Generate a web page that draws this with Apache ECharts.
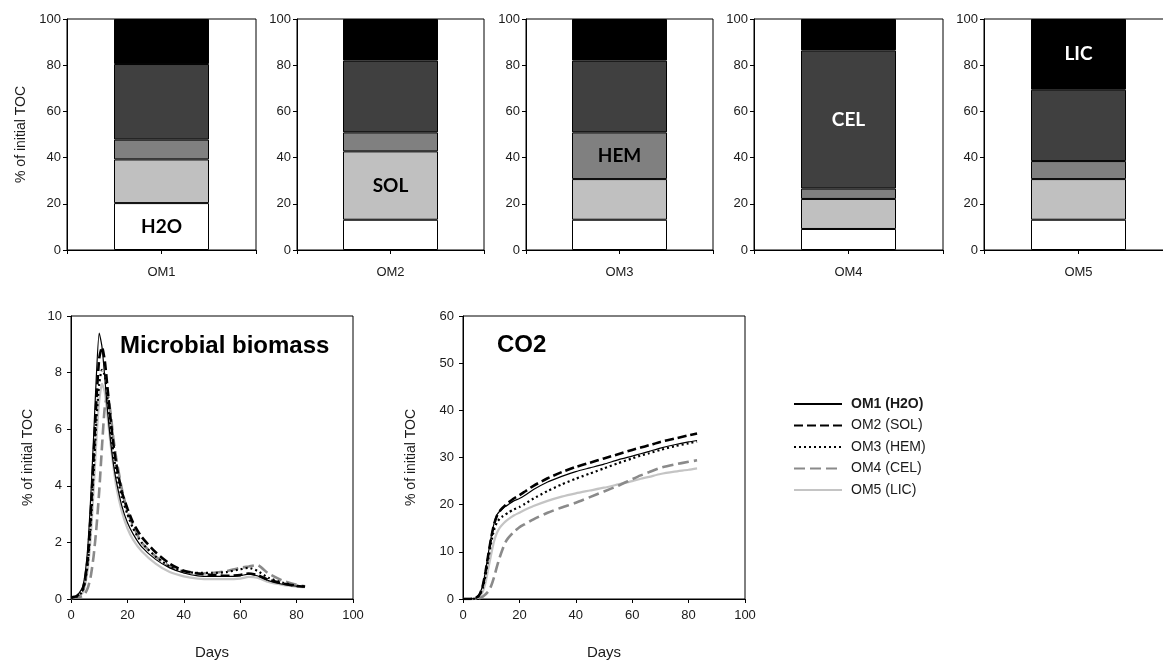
<!DOCTYPE html>
<html>
<head>
<meta charset="utf-8">
<script src="https://cdn.jsdelivr.net/npm/echarts@6/dist/echarts.min.js"></script>
<style>
html,body{margin:0;padding:0;background:#fff;overflow:hidden;}
#chart{width:1185px;height:661px;}
</style>
</head>
<body>
<div id="chart"></div>
<script>
// ---------- DATA ----------
const barCategories = ['OM1', 'OM2', 'OM3', 'OM4', 'OM5'];
const fractionNames = ['H2O', 'SOL', 'HEM', 'CEL', 'LIC'];
const fracH2O = [20.3, 13.1, 13.1, 9.1, 13.1];
const fracSOL = [18.9, 29.6, 17.6, 13.0, 17.6];
const fracHEM = [8.6, 8.2, 20.2, 4.5, 7.8];
const fracCEL = [32.7, 31.1, 31.1, 59.8, 30.9];
const fracLIC = [19.5, 18.0, 18.0, 13.6, 30.6];
const barTicks = [0, 20, 40, 60, 80, 100];

const seriesNames = ['OM1 (H2O)', 'OM2 (SOL)', 'OM3 (HEM)', 'OM4 (CEL)', 'OM5 (LIC)'];
const days = [0,2,4,5,6,7,8,9,10,11,12,13,14,15,16,18,20,22,25,30,35,40,45,50,55,60,63,66,70,75,80,83];

const bioOM1 = [0.05,0.1,0.4,0.9,1.9,3.6,5.7,7.9,9.4,8.9,7.8,6.6,5.6,4.8,4.2,3.3,2.7,2.3,1.85,1.4,1.1,0.92,0.82,0.8,0.8,0.82,0.88,0.82,0.65,0.52,0.45,0.44];
const bioOM2 = [0.05,0.1,0.3,0.7,1.5,3.0,5.0,7.0,8.5,8.9,8.4,7.4,6.4,5.5,4.8,3.8,3.2,2.7,2.2,1.65,1.25,1.0,0.9,0.85,0.82,0.85,0.9,0.85,0.68,0.55,0.46,0.44];
const bioOM3 = [0.05,0.08,0.25,0.6,1.3,2.6,4.4,6.3,7.6,8.1,7.9,7.0,6.0,5.2,4.5,3.6,3.0,2.5,2.0,1.5,1.15,0.98,0.92,0.92,0.95,1.05,1.1,1.0,0.75,0.58,0.47,0.44];
const bioOM4 = [0.03,0.05,0.1,0.2,0.4,0.8,1.5,2.5,3.8,5.4,6.8,7.2,6.6,5.7,5.0,3.9,3.1,2.6,2.0,1.5,1.15,0.95,0.9,0.92,0.98,1.1,1.15,1.2,0.9,0.65,0.5,0.45];
const bioOM5 = [0.05,0.08,0.2,0.5,1.1,2.2,3.8,5.6,7.0,7.6,7.3,6.4,5.5,4.7,4.0,3.1,2.5,2.1,1.7,1.25,0.95,0.8,0.72,0.7,0.7,0.72,0.78,0.75,0.6,0.5,0.44,0.42];

const co2OM1 = [0,0,0.1,0.4,1.2,3,6,9.8,13.2,16,17.8,18.6,19.1,19.6,20.0,20.8,21.3,22.0,23.2,24.8,26.0,27.0,27.8,28.6,29.5,30.3,30.8,31.3,32.0,32.7,33.3,33.6];
const co2OM2 = [0,0,0.1,0.4,1.1,2.8,5.8,9.5,13,15.8,17.6,18.6,19.3,19.9,20.4,21.3,22.0,22.8,24.0,25.6,26.9,28.0,28.9,29.8,30.7,31.6,32.1,32.6,33.3,34.0,34.7,35.1];
const co2OM3 = [0,0,0.05,0.3,0.9,2.3,5,8.5,12,14.6,16.2,17.0,17.5,17.9,18.3,19.0,19.5,20.2,21.3,22.9,24.3,25.5,26.6,27.7,28.8,29.8,30.4,30.9,31.6,32.4,33.0,33.4];
const co2OM4 = [0,0,0,0.05,0.2,0.5,1.0,1.6,2.8,4.6,6.8,8.8,10.5,12.0,12.9,14.2,15.2,15.9,16.9,18.3,19.4,20.4,21.6,22.8,24.0,25.4,26.2,26.9,27.8,28.5,29.1,29.4];
const co2OM5 = [0,0,0.05,0.2,0.6,1.5,3.5,6.5,9.5,12.2,14.0,15.1,15.8,16.4,16.9,17.7,18.3,18.9,19.7,20.8,21.7,22.4,23.0,23.6,24.3,25.0,25.5,25.9,26.5,27.0,27.4,27.7];

// ---------- STYLE ----------
const FONT = 'Liberation Sans, Arial, sans-serif';
const TXT = '#1a1a1a';
const fracValues = [fracH2O, fracSOL, fracHEM, fracCEL, fracLIC];
const fracColors = ['#ffffff', '#c0c0c0', '#808080', '#404040', '#000000'];
const labelColors = ['#000', '#000', '#000', '#fff', '#fff'];
const panelLeft = [67, 297, 526, 754, 984];
const panelWidth = [189, 187, 187, 189, 189];

const lineStyles = [
  {color: '#000000', width: 1.2, type: 'solid'},
  {color: '#000000', width: 2.6, type: [9, 4]},
  {color: '#000000', width: 2.2, type: [2, 3]},
  {color: '#8a8a8a', width: 2.6, type: [11, 5]},
  {color: '#c4c4c4', width: 2.2, type: 'solid'}
];

const grids = [], xAxes = [], yAxes = [], series = [];

// top stacked bar panels
for (let p = 0; p < 5; p++) {
  grids.push({left: panelLeft[p], width: panelWidth[p], top: 19, height: 231,
    show: true, borderColor: '#000', borderWidth: 1, containLabel: false});
  const xi = xAxes.length;
  xAxes.push({gridIndex: p, type: 'category', data: [barCategories[p]], boundaryGap: true,
    axisLine: {show: true, onZero: false, lineStyle: {color: '#000', width: 1}},
    axisTick: {show: true, length: 4, alignWithLabel: false, lineStyle: {color: '#000'}},
    axisLabel: {margin: 16, fontSize: 13, color: TXT, fontFamily: FONT},
    splitLine: {show: false}});
  xAxes.push({gridIndex: p, type: 'category', data: [barCategories[p]], boundaryGap: true, position: 'bottom',
    axisLine: {show: false}, axisLabel: {show: false},
    axisTick: {show: true, length: 4, alignWithLabel: true, lineStyle: {color: '#000'}},
    splitLine: {show: false}});
  yAxes.push({gridIndex: p, type: 'value', min: barTicks[0], max: barTicks[barTicks.length - 1], interval: 20,
    name: p === 0 ? '% of initial TOC' : '', nameLocation: 'middle', nameGap: 39,
    nameTextStyle: {fontSize: 14, color: TXT, fontFamily: FONT},
    axisLine: {show: true, lineStyle: {color: '#000', width: 1}},
    axisTick: {show: true, length: 4, lineStyle: {color: '#000'}},
    axisLabel: {margin: 6, fontSize: 13, color: TXT, fontFamily: FONT},
    splitLine: {show: false}});
  for (let f = 0; f < 5; f++) {
    const item = {value: fracValues[f][p]};
    if (f === p) {
      item.label = {show: true, position: 'inside', formatter: fractionNames[f],
        fontFamily: 'Lato, Open Sans, sans-serif', fontWeight: 'bold', fontSize: 19,
        color: labelColors[f]};
    }
    series.push({type: 'bar', name: fractionNames[f], xAxisIndex: xi, yAxisIndex: p,
      stack: 'panel' + p, barWidth: 95, data: [item],
      itemStyle: {color: fracColors[f], borderColor: '#000', borderWidth: 1},
      emphasis: {disabled: true}});
  }
}

// bottom line panels
const bottom = [
  {left: 71, max: 10, interval: 2, nameGap: 36, data: [bioOM1, bioOM2, bioOM3, bioOM4, bioOM5]},
  {left: 463, max: 60, interval: 10, nameGap: 45, data: [co2OM1, co2OM2, co2OM3, co2OM4, co2OM5]}
];
bottom.forEach((b, i) => {
  const gi = 5 + i;
  grids.push({left: b.left, top: 316, width: 282, height: 283,
    show: true, borderColor: '#000', borderWidth: 1});
  const xi = xAxes.length;
  const yi = yAxes.length;
  xAxes.push({gridIndex: gi, type: 'value', min: 0, max: 100, interval: 20,
    name: 'Days', nameLocation: 'middle', nameGap: 46,
    nameTextStyle: {fontSize: 15, color: TXT, fontFamily: FONT},
    axisLine: {show: true, onZero: false, lineStyle: {color: '#000'}},
    axisTick: {show: true, length: 4, lineStyle: {color: '#000'}},
    axisLabel: {margin: 10, fontSize: 13, color: TXT, fontFamily: FONT},
    splitLine: {show: false}});
  yAxes.push({gridIndex: gi, type: 'value', min: 0, max: b.max, interval: b.interval,
    name: '% of initial TOC', nameLocation: 'middle', nameGap: b.nameGap,
    nameTextStyle: {fontSize: 14, color: TXT, fontFamily: FONT},
    axisLine: {show: true, lineStyle: {color: '#000'}},
    axisTick: {show: true, length: 4, lineStyle: {color: '#000'}},
    axisLabel: {margin: 9, fontSize: 13, color: TXT, fontFamily: FONT},
    splitLine: {show: false}});
  for (let s = 0; s < 5; s++) {
    series.push({type: 'line', name: seriesNames[s], xAxisIndex: xi, yAxisIndex: yi,
      data: days.map((d, k) => [d, b.data[s][k]]),
      symbol: 'none', showSymbol: false, smooth: 0.2, z: 10 - s,
      legendIcon: 'path://M0,0 L1,0',
      lineStyle: lineStyles[s], itemStyle: {color: lineStyles[s].color},
      emphasis: {disabled: true}});
  }
});

const option = {
  animation: false,
  backgroundColor: '#fff',
  textStyle: {fontFamily: FONT},
  title: [
    {text: 'Microbial biomass', left: 120, top: 334, padding: 0,
      textStyle: {fontSize: 24, fontWeight: 'bold', color: '#000', fontFamily: FONT}},
    {text: 'CO2', left: 497, top: 333, padding: 0,
      textStyle: {fontSize: 24, fontWeight: 'bold', color: '#000', fontFamily: FONT}}
  ],
  legend: {
    orient: 'vertical', left: 793, top: 397, padding: 0,
    itemWidth: 48, itemHeight: 14, itemGap: 7.5,
    itemStyle: {opacity: 0},
    textStyle: {fontSize: 14, color: TXT, fontFamily: FONT, padding: [0, 0, 0, 4]},
    data: seriesNames.map((n, i) => i === 0 ? {name: n, textStyle: {fontWeight: 'bold'}} : {name: n}),
    selectedMode: false
  },
  grid: grids,
  xAxis: xAxes,
  yAxis: yAxes,
  series: series
};

const chart = echarts.init(document.getElementById('chart'), null, {renderer: 'canvas'});
chart.setOption(option);
</script>
</body>
</html>
